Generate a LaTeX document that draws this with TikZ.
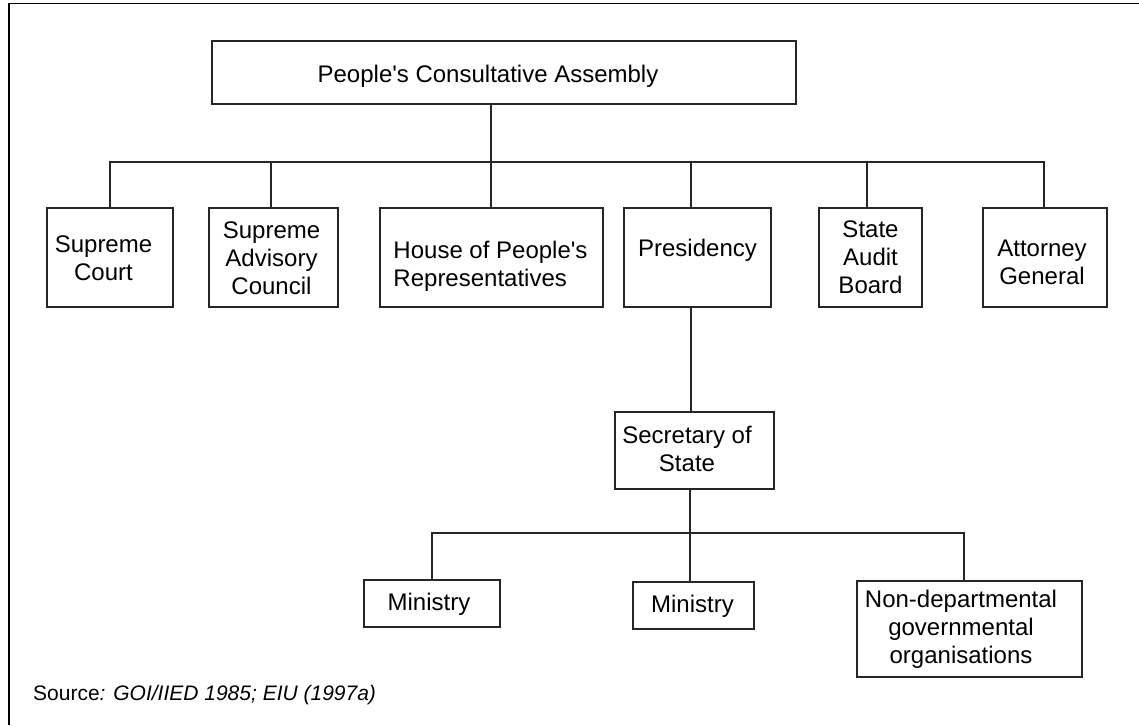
\documentclass[tikz,border=0pt]{standalone}
\usepackage{fontspec}
\setmainfont{Liberation Sans}[Ligatures=TeXOff]
\begin{document}
\begin{tikzpicture}[x=1pt,y=-1pt,
  box/.style={draw=black!85, line width=1.2pt, inner sep=0pt},
  lbl/.style={font=\fontsize{24}{28}\selectfont, align=center, inner sep=0pt},
  link/.style={draw=black!85, line width=1.1pt},
  frame/.style={draw=black, line width=1.5pt}]
\useasboundingbox (0,0) rectangle (1139,725);

% page frame (only the top and left edges fall inside the page)
\draw[frame] (9,725) -- (9,3.3) -- (1139,3.3);

% ---- top level
\node[box, minimum width=584pt, minimum height=63pt] (pca) at (504,72.5) {};
\node[lbl] (pcaT) at (488,75.8) {People's Consultative Assembly};

% ---- second level
\node[box, minimum width=126pt, minimum height=99pt] (sc)   at (110,257.5)  {};
\node[box, minimum width=129pt, minimum height=99pt] (sac)  at (273.5,257.5) {};
\node[box, minimum width=223pt, minimum height=99pt] (hop)  at (491.5,257.5) {};
\node[box, minimum width=147pt, minimum height=99pt] (pres) at (697.5,257.5) {};
\node[box, minimum width=103pt, minimum height=99pt] (sab)  at (870.5,257.5) {};
\node[box, minimum width=124pt, minimum height=99pt] (ag)   at (1045,257.5) {};

\node[lbl] (scT)   at (103.5,258)  {Supreme\\Court};
\node[lbl] (sacT)  at (271.5,258.7) {Supreme\\Advisory\\Council};
\node[lbl, align=left] (hopT) at (490.5,266.2) {House of People's\\Representatives};
\node[lbl] (presT) at (697.5,250.7) {Presidency};
\node[lbl] (sabT)  at (870.5,256.8) {State\\Audit\\Board};
\node[lbl] (agT)   at (1042,262.7) {Attorney\\General};

% ---- third level
\node[box, minimum width=159pt, minimum height=77pt] (sec) at (694.5,450.5) {};
\node[lbl] (secT) at (687,448.7) {Secretary of\\State};

% ---- fourth level
\node[box, minimum width=136pt, minimum height=47pt] (minA) at (432,603.5) {};
\node[box, minimum width=121pt, minimum height=47pt] (minB) at (693.5,605.5) {};
\node[box, minimum width=225pt, minimum height=96pt] (ndgo) at (969.5,629) {};
\node[lbl] (minAT) at (429,604.7) {Ministry};
\node[lbl] (minBT) at (692.5,606.7) {Ministry};
\node[lbl] (ndgoT) at (961,629.2) {Non-departmental\\governmental\\organisations};

% ---- source line
\node[font=\fontsize{21}{25}\selectfont, anchor=west, inner sep=0pt] (src) at (33,695.5)
  {Source\textit{: GOI/IIED 1985; EIU (1997a)}};

% ---- connector taps
\coordinate (busA) at (491,162);
\coordinate (busB) at (690,533);
\coordinate (tapPca)  at (491,0);
\coordinate (tapSac)  at (271,0);
\coordinate (tapPres) at (691,0);
\coordinate (tapSab)  at (867,0);
\coordinate (tapAg)   at (1044,0);
\coordinate (tapSec)  at (690,0);
\coordinate (tapNd)   at (964,0);

% top box to the first bus
\draw[link] (pca.south -| tapPca) -- (busA);
\draw[link] (sc.north) -- (sc.north |- busA) -- (tapAg |- busA) -- (ag.north -| tapAg);
\draw[link] (sac.north -| tapSac) -- (tapSac |- busA);
\draw[link] (hop.north -| tapPca) -- (busA);
\draw[link] (pres.north -| tapPres) -- (tapPres |- busA);
\draw[link] (sab.north -| tapSab) -- (tapSab |- busA);

% presidency down to the secretary of state
\draw[link] (pres.south -| tapPres) -- (sec.north -| tapPres);

% secretary of state to the second bus
\draw[link] (sec.south -| tapSec) -- (busB);
\draw[link] (minA.north) -- (minA.north |- busB) -- (tapNd |- busB) -- (ndgo.north -| tapNd);
\draw[link] (minB.north -| tapSec) -- (busB);
\end{tikzpicture}
\end{document}
